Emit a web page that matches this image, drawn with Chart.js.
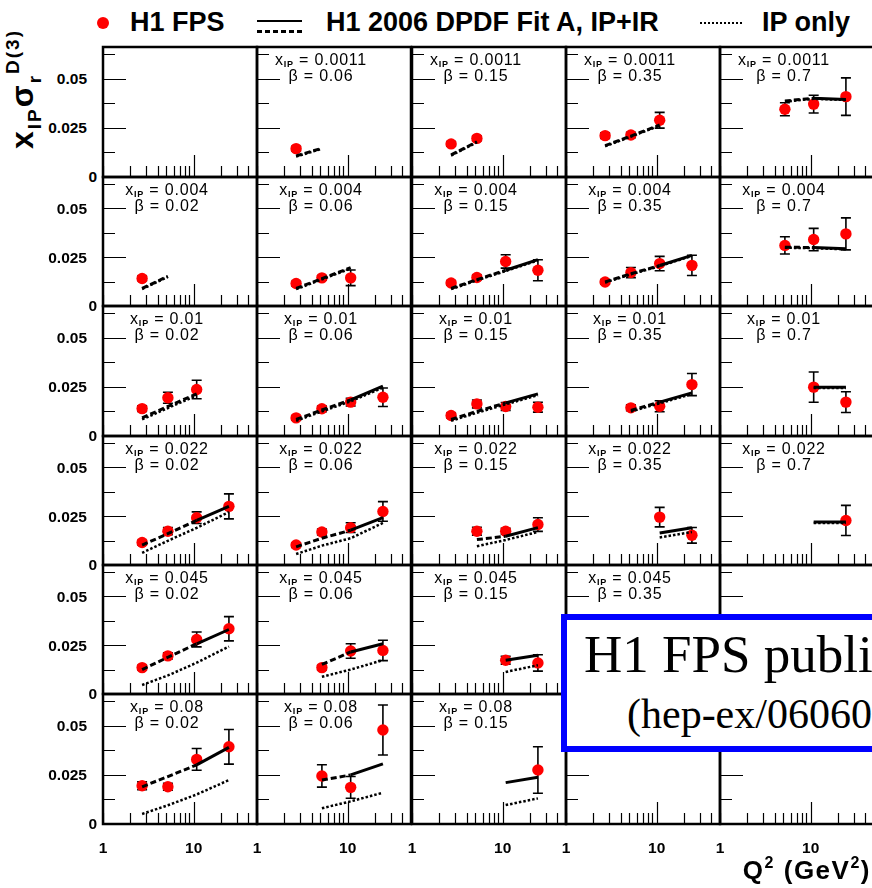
<!DOCTYPE html>
<html>
<head>
<meta charset="utf-8">
<script src="https://cdn.jsdelivr.net/npm/chart.js@4.4.0/dist/chart.umd.min.js"></script>
<style>
html, body { margin: 0; padding: 0; background: #fff; overflow: hidden; }
#page { position: relative; width: 872px; height: 888px; overflow: hidden; background: #fff; }
canvas { position: absolute; }
.t { position: absolute; white-space: nowrap; line-height: 1; color: #000;
     font-family: "Liberation Sans", Arial, Helvetica, sans-serif; }
</style>
</head>
<body>
<div id="page"></div>
<script>
// ***** data *****
const xIP = [0.0011, 0.004, 0.01, 0.022, 0.045, 0.08];   // rows
const betas = [0.02, 0.06, 0.15, 0.35, 0.7];             // columns
const q2Bins = [2.7, 5.2, 10.8, 24.5];                    // GeV^2
const yMajor = [0, 0.025, 0.05];
const yMinor = [0.0125, 0.0375, 0.0625];
const xMajor = [1, 10];
const xMinor = [2, 3, 4, 5, 6, 7, 8, 9, 20, 30, 40];
const _ = null;

// H1 FPS x_IP*sigma_r^D(3), values at q2Bins
const fpsVal = [
  [_, [0.0144,_,_,_], [0.0168,0.0196,_,_], [0.0210,0.0213,0.0288,_], [_,0.0344,0.0370,0.0408]],
  [[0.0141,_,_,_], [0.0115,0.0144,0.0144,_], [0.0118,0.0146,0.0228,0.0183], [0.0123,0.0171,0.0217,0.0208], [_,0.0310,0.0340,0.0369]],
  [[0.0139,0.0194,0.0236,_], [0.0092,0.0138,0.0172,0.0197], [0.0104,0.0163,0.0150,0.0146], [_,0.0143,0.0151,0.0261], [_,_,0.0248,0.0172]],
  [[0.0115,0.0173,0.0242,0.0300], [0.0102,0.0169,0.0191,0.0274], [_,0.0173,0.0173,0.0207], [_,_,0.0245,0.0152], [_,_,_,0.0228]],
  [[0.0135,0.0195,0.0279,0.0334], [_,0.0135,0.0220,0.0223], [_,_,0.0173,0.0159], _, _],
  [[0.0194,0.0189,0.0328,0.0392], [_,0.0244,0.0186,0.0477], [_,_,_,0.0274], _, _]
];
const fpsErr = [
  [_, [0.0012,_,_,_], [0.0012,0.0012,_,_], [0.0014,0.0014,0.0040,_], [_,0.0033,0.0045,0.0095]],
  [[0.0012,_,_,_], [0.0012,0.0012,0.0040,_], [0.0012,0.0012,0.0034,0.0054], [0.0012,0.0026,0.0037,0.0052], [_,0.0044,0.0057,0.0082]],
  [[0.0014,0.0028,0.0047,_], [0.0012,0.0014,0.0020,0.0047], [0.0012,0.0020,0.0020,0.0025], [_,0.0015,0.0028,0.0056], [_,_,0.0077,0.0053]],
  [[0.0012,0.0018,0.0030,0.0064], [0.0012,0.0015,0.0025,0.0050], [_,0.0020,0.0015,0.0035], [_,_,0.0050,0.0040], [_,_,_,0.0077]],
  [[0.0012,0.0016,0.0038,0.0062], [_,0.0012,0.0037,0.0052], [_,_,0.0020,0.0042], _, _],
  [[0.0020,0.0018,0.0055,0.0088], [_,0.0057,0.0055,0.0127], [_,_,_,0.0118], _, _]
];
// H1 2006 DPDF Fit A, IP+IR
const fitA = [
  [_, [0.0107,0.0146,_,_], [0.0112,0.0179,_,_], [0.0159,0.0208,0.0264,_], [_,0.0386,0.0400,0.0394]],
  [[0.0090,0.0152,_,_], [0.0090,0.0140,0.0196,_], [0.0090,0.0135,0.0183,0.0237], [0.0123,0.0165,0.0207,0.0259], [_,0.0301,0.0299,0.0293]],
  [[0.0092,0.0150,0.0214,_], [0.0084,0.0132,0.0183,0.0253], [0.0084,0.0125,0.0168,0.0214], [_,0.0130,0.0172,0.0219], [_,_,0.0248,0.0248]],
  [[0.0102,0.0160,0.0228,0.0300], [0.0093,0.0137,0.0178,0.0242], [_,0.0130,0.0147,0.0191], [_,_,0.0164,0.0191], [_,_,0.0220,0.0220]],
  [[0.0125,0.0188,0.0257,0.0330], [_,0.0151,0.0215,0.0257], [_,_,0.0173,0.0198], _, _],
  [[0.0189,0.0241,0.0300,0.0389], [_,0.0223,0.0249,0.0305], [_,_,0.0210,0.0237], _, _]
];
// IP only
const fitIP = [
  [_, [0.0104,0.0143,_,_], [0.0109,0.0176,_,_], [0.0156,0.0205,0.0261,_], [_,0.0383,0.0397,0.0391]],
  [[0.0087,0.0149,_,_], [0.0086,0.0136,0.0192,_], [0.0086,0.0131,0.0179,0.0233], [0.0120,0.0162,0.0204,0.0256], [_,0.0298,0.0296,0.0290]],
  [[0.0084,0.0142,0.0206,_], [0.0077,0.0125,0.0176,0.0245], [0.0077,0.0118,0.0161,0.0207], [_,0.0124,0.0166,0.0213], [_,_,0.0244,0.0244]],
  [[0.0062,0.0124,0.0190,0.0271], [0.0056,0.0099,0.0137,0.0215], [_,0.0096,0.0128,0.0169], [_,_,0.0141,0.0169], [_,_,0.0215,0.0215]],
  [[0.0046,0.0095,0.0160,0.0243], [_,0.0088,0.0125,0.0173], [_,_,0.0113,0.0147], _, _],
  [[0.0051,0.0095,0.0150,0.0223], [_,0.0080,0.0115,0.0159], [_,_,0.0096,0.0130], _, _]
];
const noLabel = ['0-0', '4-4', '5-3', '5-4'];

// ***** layout *****
const page = document.getElementById('page');
const colLeft = [103, 257, 412, 566, 720];
const rowEdge = [47, 177, 306, 436, 565, 694, 824];
const panelW = 154, pad = 3;

function addText(html, x, baseline, size, o = {}) {
  const d = document.createElement('div');
  d.className = 't';
  d.innerHTML = html;
  d.style.fontSize = size + 'px';
  if (o.weight) d.style.fontWeight = o.weight;
  if (o.family) d.style.fontFamily = o.family;
  if (o.spacing) d.style.letterSpacing = o.spacing + 'px';
  d.style.top = (baseline - 0.8465 * size) + 'px';
  page.appendChild(d);
  const w = d.getBoundingClientRect().width;
  const a = o.align || 'left';
  d.style.left = (a === 'left' ? x : a === 'right' ? x - w : x - w / 2) + 'px';
  return d;
}

function pts(vals) {
  if (!vals) return [];
  return q2Bins.map((q, i) => vals[i] == null ? null : { x: q, y: vals[i] }).filter(Boolean);
}

// frame, inward ticks and error bars
const panelDecor = {
  id: 'panelDecor',
  beforeDatasetsDraw(chart) {
    const { ctx, chartArea: a, scales: { x, y } } = chart;
    ctx.save();
    ctx.strokeStyle = '#000';
    ctx.lineWidth = 1.2;
    ctx.beginPath();
    xMajor.concat(xMinor).forEach(v => {
      const px = Math.round(x.getPixelForValue(v)) + 0.5;
      const len = v === 10 ? 22 : 11;
      ctx.moveTo(px, a.bottom); ctx.lineTo(px, a.bottom - len);
    });
    yMajor.concat(yMinor).forEach(v => {
      const py = Math.round(y.getPixelForValue(v)) + 0.5;
      const len = yMajor.includes(v) ? 23 : 12;
      ctx.moveTo(a.left, py); ctx.lineTo(a.left + len, py);
    });
    ctx.stroke();

    const ds = chart.data.datasets[2];
    ctx.lineWidth = 1.6;
    ctx.beginPath();
    ds.data.forEach((p, i) => {
      const e = ds.errors[i];
      if (!e) return;
      const px = x.getPixelForValue(p.x);
      const y0 = y.getPixelForValue(p.y - e), y1 = y.getPixelForValue(p.y + e);
      ctx.moveTo(px, y0); ctx.lineTo(px, y1);
      ctx.moveTo(px - 5, y0); ctx.lineTo(px + 5, y0);
      ctx.moveTo(px - 5, y1); ctx.lineTo(px + 5, y1);
    });
    ctx.stroke();
    ctx.restore();
  },
  afterDraw(chart) {
    const { ctx, chartArea: a } = chart;
    ctx.save();
    ctx.strokeStyle = '#000';
    ctx.lineWidth = 2.5;
    ctx.strokeRect(a.left, a.top, a.right - a.left, a.bottom - a.top);
    ctx.restore();
  }
};

for (let r = 0; r < xIP.length; r++) {
  for (let c = 0; c < betas.length; c++) {
    const top = rowEdge[r], h = rowEdge[r + 1] - rowEdge[r], left = colLeft[c];
    const cv = document.createElement('canvas');
    cv.width = panelW + 2 * pad;
    cv.height = h + 2 * pad;
    cv.style.left = (left - pad) + 'px';
    cv.style.top = (top - pad) + 'px';
    page.appendChild(cv);

    const v = fpsVal[r][c], e = fpsErr[r][c];
    const chart = new Chart(cv, {
      type: 'line',
      data: {
        datasets: [
          { label: 'IP only', data: pts(fitIP[r][c]), borderColor: '#000', borderWidth: 2.5,
            borderDash: [2.5, 2], pointRadius: 0, fill: false },
          { label: 'H1 2006 DPDF Fit A, IP+IR', data: pts(fitA[r][c]), borderColor: '#000', borderWidth: 3,
            pointRadius: 0, fill: false,
            segment: { borderDash: s => s.p1.parsed.x < 11 ? [6, 3] : undefined } },
          { label: 'H1 FPS', data: pts(v), errors: v ? q2Bins.map((q, i) => v[i] == null ? null : e[i]).filter(z => z != null) : [],
            showLine: false, pointRadius: 5.7, pointBackgroundColor: '#ff0000', pointBorderWidth: 0, borderColor: '#ff0000' }
        ]
      },
      options: {
        responsive: false, animation: false, devicePixelRatio: 1, events: [],
        layout: { padding: pad, autoPadding: false },
        plugins: { legend: { display: false }, tooltip: { enabled: false } },
        scales: {
          x: { type: 'logarithmic', min: 1, max: 50, display: false },
          y: { type: 'linear', min: 0, max: 0.066, display: false }
        }
      },
      plugins: [panelDecor]
    });

    const cy = top - pad, cx = left - pad;
    if (c === 0) {
      yMajor.forEach(t => {
        const py = cy + chart.scales.y.getPixelForValue(t);
        addText(String(t), t === 0 ? 97 : 87, py + 5.5, 15.5, { weight: 'bold', align: 'right' });
      });
    }
    if (r === xIP.length - 1) {
      xMajor.forEach(t => {
        const px = cx + chart.scales.x.getPixelForValue(t);
        addText(String(t), px, 853, 15.5, { weight: 'bold', align: 'center' });
      });
    }
    if (!noLabel.includes(r + '-' + c)) {
      addText('x<span style="font-size:9px;font-weight:bold;position:relative;top:2px">IP</span> = ' + xIP[r],
        left + 64, top + 19, 16, { align: 'center', spacing: 0.8 });
      addText('β = ' + betas[c], left + 64, top + 35, 16, { align: 'center', spacing: 0.8 });
    }
  }
}

// ***** legend *****
const dot = document.createElement('div');
dot.style.cssText = 'position:absolute;left:97px;top:16.5px;width:12px;height:12px;border-radius:50%;background:#ff0000';
page.appendChild(dot);
addText('H1 FPS', 130, 32, 27, { weight: 'bold' });
const solidSym = document.createElement('div');
solidSym.style.cssText = 'position:absolute;left:257px;top:19.5px;width:45px;height:2.5px;background:#000';
page.appendChild(solidSym);
const dashSym = document.createElement('div');
dashSym.style.cssText = 'position:absolute;left:257px;top:30px;width:45px;height:2.5px;background:repeating-linear-gradient(to right,#000 0 5px,transparent 5px 8px)';
page.appendChild(dashSym);
addText('H1 2006 DPDF Fit A, IP+IR', 326, 32, 27, { weight: 'bold' });
const dotSym = document.createElement('div');
dotSym.style.cssText = 'position:absolute;left:700px;top:22px;width:42px;height:2px;background:repeating-linear-gradient(to right,#000 0 2px,transparent 2px 4px)';
page.appendChild(dotSym);
addText('IP only', 762, 32, 27, { weight: 'bold' });

// ***** axis titles *****
const yt = document.createElement('div');
yt.className = 't';
yt.style.cssText += 'font-size:32px;font-weight:bold;letter-spacing:2px;transform-origin:0 0;transform:rotate(-90deg);left:6px;top:149px;';
yt.innerHTML = 'x<span style="font-size:19px;position:relative;top:8px">IP</span>σ<span style="font-size:19px;position:relative;top:8px">r</span><span style="font-size:19px;position:relative;top:-14px">D(3)</span>';
page.appendChild(yt);

addText('Q<span style="font-size:16px;position:relative;top:-11px">2</span> (GeV<span style="font-size:16px;position:relative;top:-11px">2</span>)',
  871, 879, 26, { weight: 'bold', align: 'right', spacing: 1.5 });

// ***** publication box *****
const box = document.createElement('div');
box.style.cssText = 'position:absolute;left:561px;top:614px;width:600px;height:138px;box-sizing:border-box;border:6px solid #0000ff;background:#fff';
page.appendChild(box);
addText('H1 FPS published', 584, 673, 53, { family: '"Liberation Serif", "Times New Roman", serif' });
addText('(hep-ex/0606003)', 627, 729, 42, { family: '"Liberation Serif", "Times New Roman", serif' });
</script>
</body>
</html>
